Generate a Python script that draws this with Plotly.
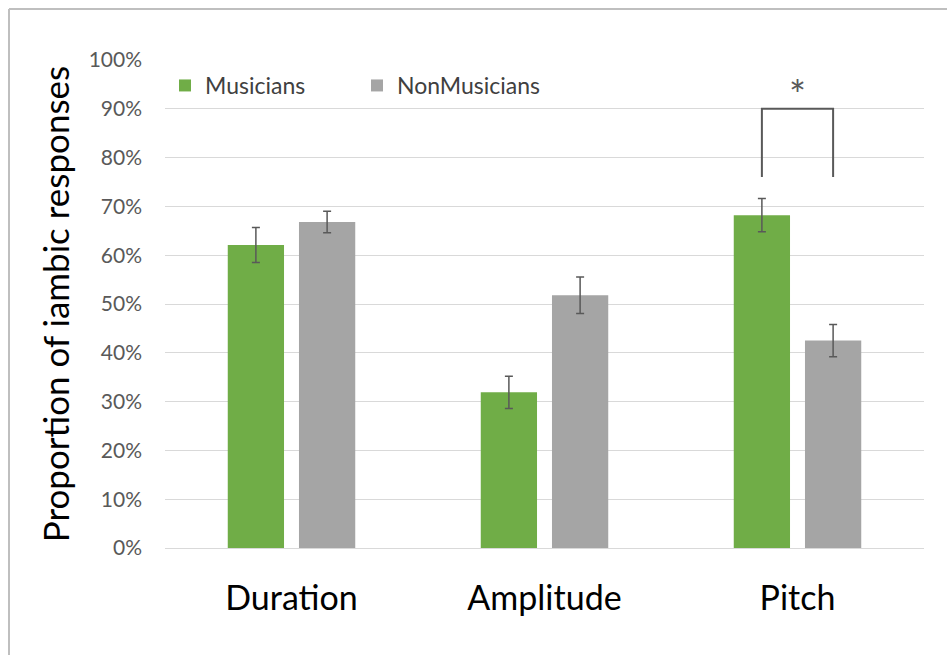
import plotly.graph_objects as go

# Proportion of iambic responses per cue type, by group
categories = ["Duration", "Amplitude", "Pitch"]
musicians = [62.1, 31.9, 68.2]
musicians_err = [3.6, 3.3, 3.4]
non_musicians = [66.8, 51.8, 42.5]
non_musicians_err = [2.2, 3.75, 3.3]
y_ticks = list(range(0, 101, 10))
y_tick_labels = [f"{v}%" for v in y_ticks]

# significance bracket over the Pitch pair
bracket_top = 90
bracket_foot = 76
star_y = 87.6

GREEN = "#70ad47"
GREY = "#a5a5a5"
INK = "#595959"
FONT = "Lato"

BARGAP = 0.437
GROUPGAP = 0.21

fig = go.Figure()
fig.add_trace(go.Bar(
    name="Musicians", x=categories, y=musicians, marker_color=GREEN,
    marker_line_width=0,
    error_y=dict(type="data", array=musicians_err, color=INK, thickness=1.5, width=4),
))
fig.add_trace(go.Bar(
    name="NonMusicians", x=categories, y=non_musicians, marker_color=GREY,
    marker_line_width=0,
    error_y=dict(type="data", array=non_musicians_err, color=INK, thickness=1.5, width=4),
))

# bracket legs sit on the bar centres of the Pitch group
pitch_idx = categories.index("Pitch")
half = (1 - BARGAP) / 4
xl, xr = pitch_idx - half, pitch_idx + half
fig.add_shape(type="path", xref="x", yref="y",
              path=f"M {xl},{bracket_foot} L {xl},{bracket_top} L {xr},{bracket_top} L {xr},{bracket_foot}",
              line=dict(color=INK, width=2))
fig.add_annotation(x=pitch_idx, y=star_y, xref="x", yref="y", text="*",
                   showarrow=False, font=dict(family=FONT, size=40, color=INK),
                   yanchor="bottom")

# outer frame (top and left edges)
L, R, T, B = 165, 924, 60, 548
px = lambda v: (v - L) / (R - L)
py = lambda v: (B - v) / (B - T)
frame = dict(color="#bfbfbf", width=2)
fig.add_shape(type="line", xref="paper", yref="paper",
              x0=px(9), x1=px(960), y0=py(9), y1=py(9), line=frame)
fig.add_shape(type="line", xref="paper", yref="paper",
              x0=px(9), x1=px(9), y0=py(9), y1=py(670), line=frame)

fig.update_layout(
    width=947, height=655,
    margin=dict(l=L, r=947 - R, t=T, b=655 - B),
    paper_bgcolor="white", plot_bgcolor="white",
    barmode="group", bargap=BARGAP, bargroupgap=GROUPGAP,
    font=dict(family=FONT, color=INK),
    showlegend=True,
    legend=dict(orientation="h", x=0.0, xanchor="left", y=py(85.5), yanchor="middle",
                font=dict(family=FONT, size=23, color="#404040"),
                bgcolor="rgba(0,0,0,0)", entrywidth=147, entrywidthmode="pixels"),
    xaxis=dict(
        tickfont=dict(family=FONT, size=34, color="black"),
        showgrid=False, showline=False, ticks="", ticklabelstandoff=27,
    ),
    yaxis=dict(
        range=[0, 100], tickmode="array", tickvals=y_ticks, ticktext=y_tick_labels,
        tickfont=dict(family=FONT, size=21, color=INK),
        showgrid=True, gridcolor="#d9d9d9", gridwidth=1,
        zeroline=True, zerolinecolor="#d9d9d9", zerolinewidth=1,
        showline=False, ticks="", ticklabelstandoff=22,
        title=dict(text="Proportion of iambic responses",
                   font=dict(family=FONT, size=35, color="black"), standoff=8),
    ),
)

fig.write_html("out.html")
